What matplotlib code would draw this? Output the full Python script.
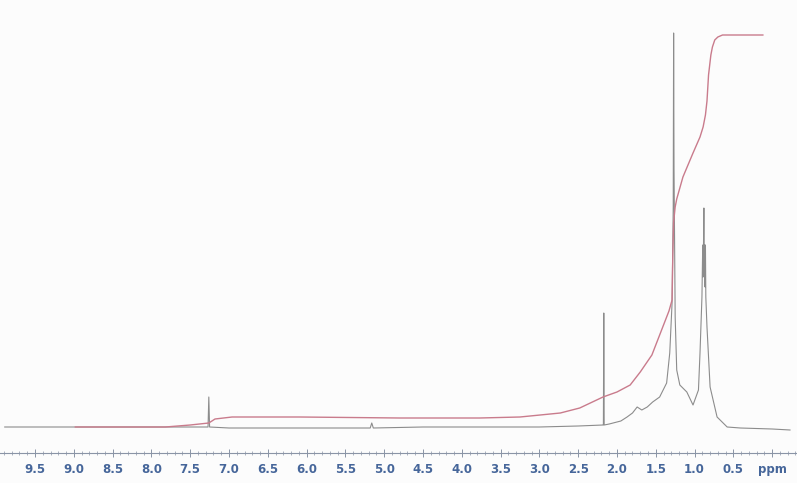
import numpy as np
import matplotlib.pyplot as plt
from matplotlib.ticker import MultipleLocator

# spectrum trace: chemical shift (ppm) and intensity
spec_ppm = [9.89, 9.40, 9.00, 8.20, 7.60, 7.27, 7.26, 7.25, 7.00, 6.20, 5.40,
            5.18, 5.16, 5.14, 4.50, 3.50, 3.00, 2.50, 2.18, 2.175, 2.17, 2.165,
            2.10, 1.95, 1.87, 1.80, 1.74, 1.68, 1.61, 1.54, 1.45, 1.36, 1.32,
            1.29, 1.275, 1.27, 1.265, 1.25, 1.23, 1.19, 1.10, 1.02, 0.95, 0.93,
            0.905, 0.895, 0.89, 0.885, 0.88, 0.875, 0.87, 0.865, 0.86, 0.855,
            0.84, 0.80, 0.71, 0.58, 0.41, 0.00, -0.23]
spec_int = [0, 0, 0, 0, 0, 0, 30, 0, -1, -1, -1,
            -1, 4, -1, 0, 0, 0, 1, 2, 2, 114, 2,
            3, 6, 10, 14, 20, 17, 20, 25, 30, 44, 74,
            124, 220, 394, 260, 110, 57, 42, 35, 22, 37, 74,
            130, 182, 150, 182, 219, 160, 182, 140, 182, 130,
            100, 40, 10, 0, -1, -2, -3]

# integral curve
int_ppm = [8.98, 7.82, 7.50, 7.26, 7.18, 6.96, 6.09, 4.80, 3.77, 3.25, 2.73,
           2.48, 2.18, 2.00, 1.83, 1.70, 1.55, 1.41, 1.33, 1.29, 1.28, 1.27,
           1.25, 1.23, 1.15, 1.02, 0.93, 0.89, 0.86, 0.84, 0.82, 0.79, 0.77,
           0.74, 0.70, 0.64, 0.58, 0.12]
int_val = [0, 0, 2, 4, 8, 10, 10, 9, 9, 10, 14,
           19, 30, 35, 42, 55, 72, 100, 116, 127, 174, 205,
           220, 228, 250, 274, 290, 300, 312, 326, 352, 372, 380,
           387, 390, 392, 392, 392]

tick_vals = [9.5, 9.0, 8.5, 8.0, 7.5, 7.0, 6.5, 6.0, 5.5, 5.0, 4.5, 4.0,
             3.5, 3.0, 2.5, 2.0, 1.5, 1.0, 0.5, 0.0]
tick_text = ['9.5', '9.0', '8.5', '8.0', '7.5', '7.0', '6.5', '6.0', '5.5',
             '5.0', '4.5', '4.0', '3.5', '3.0', '2.5', '2.0', '1.5', '1.0',
             '0.5', 'ppm']

fig = plt.figure(figsize=(7.97, 4.83), dpi=100)
fig.patch.set_facecolor('#fcfcfc')
ax = fig.add_axes([0, 30 / 483, 1, 1 - 30 / 483])
ax.set_facecolor('#fcfcfc')

ax.plot(spec_ppm, spec_int, color='#8c8c8c', lw=0.8)
ax.plot(int_ppm, int_val, color='#c97b8c', lw=1.0)

ax.set_xlim(9.951, -0.320)
ax.set_ylim(-26, 427)

for s in ['left', 'right', 'top']:
    ax.spines[s].set_visible(False)
ax.spines['bottom'].set_color('#8a94a6')
ax.spines['bottom'].set_linewidth(0.8)
ax.set_yticks([])

ax.set_xticks(tick_vals)
ax.set_xticklabels(tick_text)
ax.xaxis.set_minor_locator(MultipleLocator(0.1))
ax.tick_params(axis='x', which='major', direction='inout', length=6, width=0.7,
               color='#8a94a6', pad=4, labelsize=8.5, labelcolor='#46669a')
ax.tick_params(axis='x', which='minor', direction='inout', length=3, width=0.5,
               color='#8a94a6')
for lab in ax.get_xticklabels():
    lab.set_fontweight('bold')

fig.savefig('out.png', dpi=100, facecolor=fig.get_facecolor())
